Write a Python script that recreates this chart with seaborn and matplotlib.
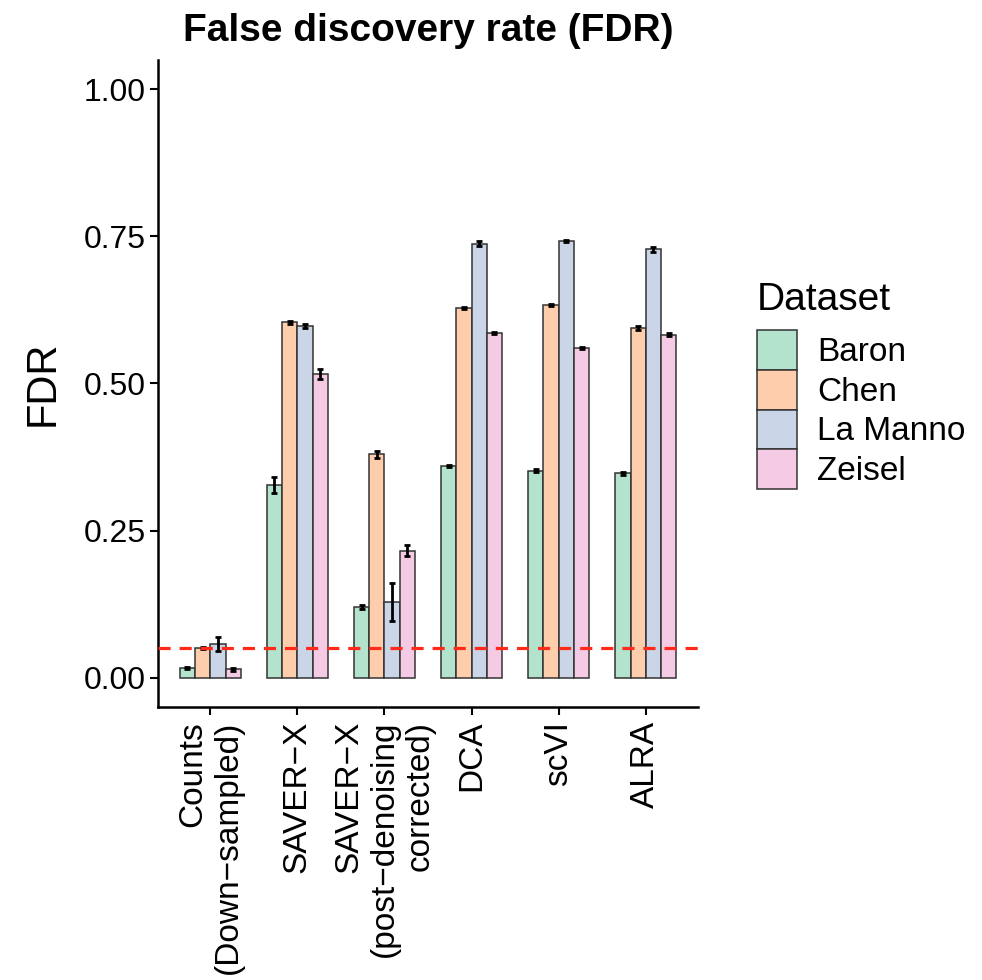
import numpy as np
import pandas as pd
import matplotlib
matplotlib.use("Agg")
import matplotlib.pyplot as plt
import seaborn as sns

# ---- data ----
methods = ["Counts\n(Down\u2212sampled)", "SAVER\u2212X",
           "SAVER\u2212X\n(post\u2212denoising\ncorrected)", "DCA", "scVI", "ALRA"]
datasets = ["Baron", "Chen", "La Manno", "Zeisel"]
baron = [0.016, 0.327, 0.120, 0.360, 0.352, 0.347]
chen = [0.050, 0.604, 0.380, 0.628, 0.633, 0.594]
lamanno = [0.057, 0.598, 0.128, 0.738, 0.742, 0.728]
zeisel = [0.014, 0.516, 0.216, 0.586, 0.560, 0.583]
baron_err = [0.002, 0.014, 0.004, 0.002, 0.002, 0.003]
chen_err = [0.002, 0.002, 0.006, 0.002, 0.002, 0.003]
lamanno_err = [0.012, 0.004, 0.032, 0.004, 0.002, 0.004]
zeisel_err = [0.003, 0.009, 0.010, 0.002, 0.002, 0.003]
colors = ["#B3E2CD", "#FDCDAC", "#CBD5E8", "#F4CAE4"]
threshold = 0.05

vals = [baron, chen, lamanno, zeisel]
errs = [baron_err, chen_err, lamanno_err, zeisel_err]
rows = []
for d, v, e in zip(datasets, vals, errs):
    for m, vv, ee in zip(methods, v, e):
        rows.append({"Method": m, "Dataset": d, "FDR": vv, "err": ee})
df = pd.DataFrame(rows)

sns.set_theme(style="ticks")
plt.rcParams["font.family"] = ["Liberation Sans", "DejaVu Sans"]
plt.rcParams["text.color"] = "black"
plt.rcParams["axes.labelcolor"] = "black"
plt.rcParams["xtick.color"] = "black"
plt.rcParams["ytick.color"] = "black"

fig = plt.figure(figsize=(9.82, 9.80), dpi=100)
ax = fig.add_axes([158 / 982, 1 - 707 / 980, 540 / 982, 647 / 980])

sns.barplot(data=df, x="Method", y="FDR", hue="Dataset", order=methods,
            hue_order=datasets, palette=colors, width=0.7, errorbar=None,
            edgecolor="#333333", linewidth=1.1, saturation=1, ax=ax)

for cont, e in zip(ax.containers, errs):
    xs = [p.get_x() + p.get_width() / 2 for p in cont.patches]
    ys = [p.get_height() for p in cont.patches]
    ax.errorbar(xs, ys, yerr=e, fmt="none", ecolor="black", elinewidth=2.0,
                capsize=2.0, capthick=2.0, zorder=5)

ax.axhline(threshold, color="#FF2A1A", lw=2.3, dashes=(3.8, 2.8), zorder=6)

ax.set_xlim(-0.6, 5.6)
ax.set_ylim(-0.05, 1.05)
ax.set_yticks([0, 0.25, 0.5, 0.75, 1.0])
ax.set_yticklabels(["0.00", "0.25", "0.50", "0.75", "1.00"], fontsize=23)
ax.set_xticks(range(len(methods)))
ax.set_xticklabels(methods, rotation=90, fontsize=24, ha="center", va="top",
                   multialignment="right")
ax.set_xlabel("")
ax.set_ylabel("FDR", fontsize=30, labelpad=15)
ax.set_title("False discovery rate (FDR)", fontsize=28, fontweight="bold", pad=14)

sns.despine(ax=ax)
for s in ["left", "bottom"]:
    ax.spines[s].set_linewidth(1.8)
    ax.spines[s].set_color("black")
ax.tick_params(axis="both", length=6, width=1.5, color="black", labelcolor="black")
ax.tick_params(axis="y", pad=3)
ax.tick_params(axis="x", pad=4)

handles, labels = ax.get_legend_handles_labels()
if ax.legend_:
    ax.legend_.remove()
leg = fig.legend(handles, labels, title="Dataset", loc="upper left",
                 bbox_to_anchor=(757 / 982, 1 - 282 / 980), frameon=False,
                 fontsize=24, title_fontsize=28, handlelength=1.2,
                 handleheight=1.45, labelspacing=0.0, handletextpad=0.6,
                 borderpad=0, borderaxespad=0)
leg._legend_box.align = "left"
leg._legend_box.sep = 9

fig.savefig("out.png", dpi=100)
